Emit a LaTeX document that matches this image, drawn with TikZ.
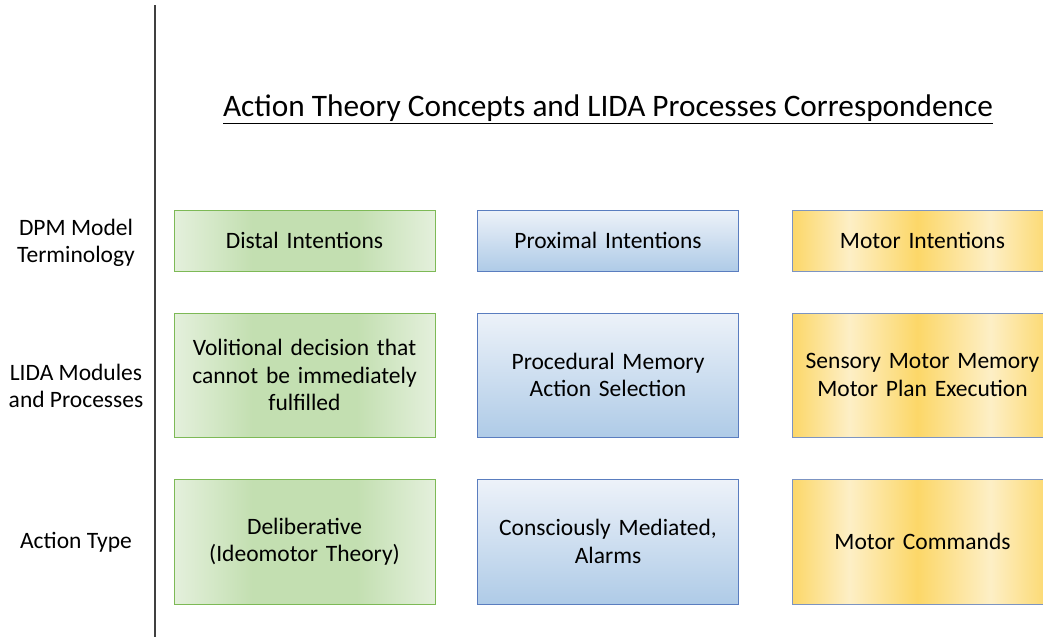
\documentclass[tikz,border=0pt]{standalone}
\usepackage{fontspec}
\setmainfont{Carlito}
\usetikzlibrary{positioning}

\definecolor{greenlight}{HTML}{E4F0DC}
\definecolor{greendark}{HTML}{C3DFB1}
\definecolor{greenline}{HTML}{7DB956}
\definecolor{bluelight}{HTML}{EDF2F9}
\definecolor{bluedark}{HTML}{AFCBE7}
\definecolor{blueline}{HTML}{5A7DBF}
\definecolor{goldlight}{HTML}{FDEFC6}
\definecolor{golddark}{HTML}{FCD768}
\definecolor{goldline}{HTML}{7C94C2}

\pgfdeclarehorizontalshading{goldstripes}{100bp}{color(0bp)=(golddark); color(25bp)=(golddark); color(36bp)=(goldlight); color(49bp)=(golddark); color(63bp)=(goldlight); color(75bp)=(golddark); color(100bp)=(golddark)}
\pgfdeclarehorizontalshading{greenband}{100bp}{color(0bp)=(greenlight); color(25bp)=(greenlight); color(40bp)=(greendark); color(60bp)=(greendark); color(75bp)=(greenlight); color(100bp)=(greenlight)}

\tikzset{
    cell/.style={draw, line width=0.9pt, align=center, inner sep=0pt,
        minimum width=261pt, text width=255pt,
        font=\fontsize{23.5}{27.5}\selectfont},
    greenbox/.style={cell, draw=greenline, shading=greenband},
    bluebox/.style={cell, draw=blueline, top color=bluelight, bottom color=bluedark},
    goldbox/.style={cell, draw=goldline, shading=goldstripes},
    rowlabel/.style={align=center, inner sep=0pt, font=\fontsize{23.5}{27.5}\selectfont}
}

\begin{document}
\begin{tikzpicture}[x=1pt, y=-1pt]

    % Canvas size
    \useasboundingbox (0,0) rectangle (1043,637);
    \clip (0,0) rectangle (1043,637);

    % Title
    \node[inner sep=0pt, font=\fontsize{31.3}{36}\selectfont] (title) at (608,109)
        {\underline{Action Theory Concepts and LIDA Processes Correspondence}};

    % Separator line
    \coordinate (sepTop) at (155,5);
    \coordinate (sepBot) at (155,637);
    \draw[line width=1.2pt, black!75] (sepTop) -- (sepBot);

    % Row labels
    \node[rowlabel] (lblDPM)  at (76,243) {DPM Model\\Terminology};
    \node[rowlabel] (lblLIDA) at (76,386) {LIDA Modules\\and Processes};
    \node[rowlabel] (lblType) at (76,542) {Action Type};

    % Row 1: DPM model terminology
    \node[greenbox, minimum height=61pt] (distal)   at (304.5,240.5) {Distal Intentions};
    \node[bluebox,  minimum height=61pt] (proximal) at (608,240.5)   {Proximal Intentions};
    \node[goldbox,  minimum height=61pt] (motor)    at (922.5,240.5) {Motor Intentions};

    % Row 2: LIDA modules and processes
    \node[greenbox, minimum height=124pt] (volition)   at (304.5,375) {Volitional decision that\\cannot be immediately\\fulfilled};
    \node[bluebox,  minimum height=124pt] (procedural) at (608,375)   {Procedural Memory\\Action Selection};
    \node[goldbox,  minimum height=124pt] (sensory)    at (922.5,375) {Sensory Motor Memory\\Motor Plan Execution};

    % Row 3: action type
    \node[greenbox, minimum height=125pt] (deliberative) at (304.5,541.5) {Deliberative\\(Ideomotor Theory)};
    \node[bluebox,  minimum height=125pt] (mediated)     at (608,541.5)   {Consciously Mediated,\\Alarms};
    \node[goldbox,  minimum height=125pt] (commands)     at (922.5,541.5) {Motor Commands};

\end{tikzpicture}
\end{document}
